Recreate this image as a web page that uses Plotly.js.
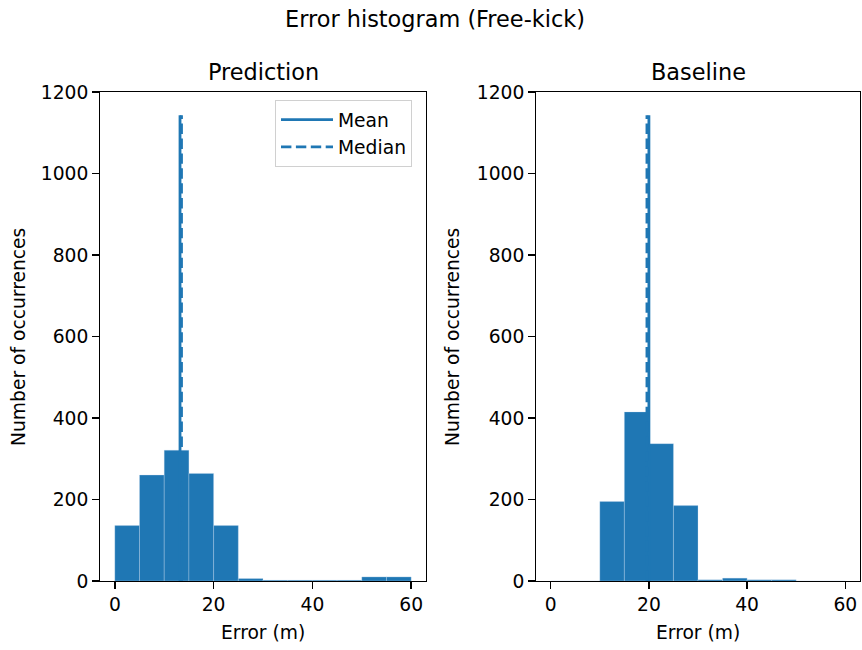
<!DOCTYPE html>
<html>
<head>
<meta charset="utf-8">
<script src="https://cdn.plot.ly/plotly-3.0.1.min.js"></script>
<style>
  html, body { margin: 0; padding: 0; background: #fff; }
  #chart { width: 862px; height: 650px; }
</style>
</head>
<body>
<div id="chart"></div>
<script>
// Histogram bins (metres), 5 m wide from 0 to 60
const binStarts = [0, 5, 10, 15, 20, 25, 30, 35, 40, 45, 50, 55];
const binWidth = 5;

// Occurrence counts per bin
const predictionCounts = [136, 260, 321, 264, 136, 6, 2, 2, 2, 2, 10, 10];
const baselineCounts   = [0, 0, 195, 415, 337, 185, 3, 7, 3, 3, 0, 0];

// Summary statistics (metres)
const predictionMean = 13.2;
const predictionMedian = 13.5;
const baselineMean = 20.0;
const baselineMedian = 19.6;

// Height of the mean / median markers (number of samples)
const sampleCount = 1143;

const xTicks = [0, 20, 40, 60];
const yTicks = [0, 200, 400, 600, 800, 1000, 1200];

const barColor = '#1f77b4';
const textColor = '#000000';
const fontFamily = 'DejaVu Sans, sans-serif';
const dashPattern = '10.4px,4.5px';

const tickSize = 18.7;
const titleSize = 22.4;

function bars(counts, xa, ya) {
  return {
    type: 'bar',
    x: binStarts,
    y: counts,
    width: binWidth,
    offset: 0,
    xaxis: xa,
    yaxis: ya,
    marker: { color: barColor, line: { width: 0.5, color: 'rgba(200,220,240,0.6)' } },
    showlegend: false,
    hoverinfo: 'x+y'
  };
}

function vline(xv, name, dash, xa, ya, legend) {
  return {
    type: 'scatter',
    mode: 'lines',
    x: [xv, xv],
    y: [0, sampleCount],
    xaxis: xa,
    yaxis: ya,
    name: name,
    line: { color: barColor, width: 2.8, dash: dash },
    showlegend: legend
  };
}

const traces = [
  bars(predictionCounts, 'x', 'y'),
  bars(baselineCounts, 'x2', 'y2'),
  vline(predictionMean, 'Mean', 'solid', 'x', 'y', true),
  vline(predictionMedian, 'Median', dashPattern, 'x', 'y', true),
  vline(baselineMean, 'Mean', 'solid', 'x2', 'y2', false),
  vline(baselineMedian, 'Median', dashPattern, 'x2', 'y2', false)
];

const W = 862, H = 650;
const yDomain = [1 - 581 / H, 1 - 92 / H];

const tickFont = { family: fontFamily, size: tickSize, color: textColor };
const titleFont = { family: fontFamily, size: titleSize, color: textColor };

function xAxis(domain, anchor) {
  return {
    domain: domain,
    anchor: anchor,
    range: [-3, 63],
    tickvals: xTicks,
    ticks: 'outside',
    ticklen: 6.5,
    tickwidth: 1.4,
    tickcolor: '#000',
    showline: true,
    linecolor: '#000',
    linewidth: 1.4,
    mirror: true,
    showgrid: false,
    zeroline: false,
    tickfont: tickFont
  };
}

function yAxis(anchor) {
  return {
    domain: yDomain,
    anchor: anchor,
    range: [0, 1200],
    tickvals: yTicks,
    ticks: 'outside',
    ticklen: 6.5,
    tickwidth: 1.4,
    tickcolor: '#000',
    showline: true,
    linecolor: '#000',
    linewidth: 1.4,
    mirror: true,
    showgrid: false,
    zeroline: false,
    tickfont: tickFont
  };
}

function ann(text, x, y, font, angle) {
  return {
    text: text, x: x / W, y: 1 - y / H, xref: 'paper', yref: 'paper',
    xanchor: 'center', yanchor: 'middle', showarrow: false,
    font: font, textangle: angle || 0
  };
}

const layout = {
  width: W,
  height: H,
  margin: { l: 0, r: 0, t: 0, b: 0 },
  paper_bgcolor: '#fff',
  plot_bgcolor: '#fff',
  font: { family: fontFamily, color: textColor },
  title: {
    text: 'Error histogram (Free-kick)',
    x: 435 / W, xanchor: 'center',
    y: 1 - 19 / H, yanchor: 'middle',
    font: titleFont
  },
  bargap: 0,
  xaxis: xAxis([100 / W, 426 / W], 'y'),
  yaxis: yAxis('x'),
  xaxis2: xAxis([536 / W, 860 / W], 'y2'),
  yaxis2: yAxis('x2'),
  showlegend: true,
  legend: {
    x: 275 / W, y: 1 - 100 / H, xanchor: 'left', yanchor: 'top',
    bgcolor: '#fff', bordercolor: '#d0d0d0', borderwidth: 1,
    font: tickFont,
    itemwidth: 52
  },
  annotations: [
    ann('Prediction', 263, 72, titleFont),
    ann('Baseline', 698, 72, titleFont),
    ann('Error (m)', 263, 632, tickFont),
    ann('Error (m)', 698, 632, tickFont),
    ann('Number of occurrences', 18, 337, tickFont, -90),
    ann('Number of occurrences', 452, 337, tickFont, -90)
  ]
};

Plotly.newPlot('chart', traces, layout, { staticPlot: true, displayModeBar: false });
</script>
</body>
</html>
